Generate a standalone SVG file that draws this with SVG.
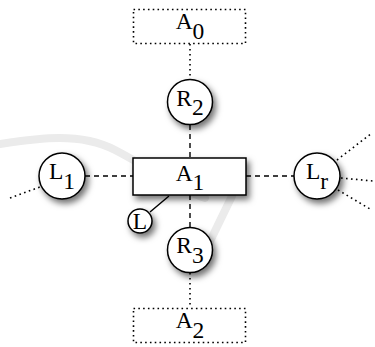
<svg xmlns="http://www.w3.org/2000/svg" width="375" height="347" viewBox="0 0 375 347">
<defs>
<style>
.lbl{font-family:"Liberation Serif","Times New Roman",serif;font-size:23.5px;fill:#000;text-anchor:middle}
.node{fill:#fff;stroke:#000;stroke-width:1.5}
.dotbox{fill:#fff;stroke:#000;stroke-width:1.6;stroke-dasharray:1.6 3.2}
.dash{stroke:#000;stroke-width:1.4;stroke-dasharray:5 4;fill:none}
.dot{stroke:#000;stroke-width:1.6;stroke-dasharray:1.6 3.4;fill:none}
.solid{stroke:#000;stroke-width:1.4;fill:none}
</style>
<filter id="sh" x="-50%" y="-50%" width="200%" height="200%">
<feDropShadow dx="3" dy="4" stdDeviation="3" flood-color="#000" flood-opacity="0.55"/>
</filter>
</defs>
<rect width="375" height="347" fill="#fff"/>
<g id="watermark" fill="none" stroke="#ebebeb" stroke-linecap="round">
<path d="M0,144 C40,138 80,132 115,150 C150,168 180,190 205,198" stroke-width="8"/>
<path d="M232,196 L200,262" stroke-width="8"/>
</g>
<g id="connectors">
<line class="dot" x1="190" y1="44" x2="190" y2="80"/>
<line class="dash" x1="190" y1="125" x2="190" y2="158"/>
<line class="dash" x1="85" y1="176" x2="133" y2="176"/>
<line class="dash" x1="246" y1="176" x2="294" y2="176"/>
<line class="dash" x1="190" y1="195" x2="190" y2="227"/>
<line class="dot" x1="190" y1="273" x2="190" y2="308"/>
<line class="solid" x1="150" y1="212" x2="169" y2="196"/>
<line class="dot" x1="10" y1="198" x2="40" y2="187"/>
<line class="dot" x1="337" y1="160" x2="372" y2="133"/>
<line class="dot" x1="341" y1="178" x2="373" y2="181"/>
<line class="dot" x1="338" y1="190" x2="370" y2="209"/>
</g>
<g id="A0">
<rect class="dotbox" x="133.5" y="9.5" width="112" height="34"/>
<text class="lbl" x="190" y="29">A<tspan dy="9.5">0</tspan></text>
</g>
<g id="R2">
<circle class="node" cx="190" cy="102" r="22.5" filter="url(#sh)"/>
<text class="lbl" x="190" y="106">R<tspan dy="9">2</tspan></text>
</g>
<g id="L1">
<circle class="node" cx="62" cy="176" r="23" filter="url(#sh)"/>
<text class="lbl" x="62" y="179">L<tspan dy="9.5">1</tspan></text>
</g>
<g id="A1">
<rect class="node" x="133" y="158" width="113" height="37" filter="url(#sh)"/>
<text class="lbl" x="190" y="181">A<tspan dy="9">1</tspan></text>
</g>
<g id="Lr">
<circle class="node" cx="317" cy="176" r="23" filter="url(#sh)"/>
<text class="lbl" x="317" y="179">L<tspan dy="9.5">r</tspan></text>
</g>
<g id="L">
<circle class="node" cx="140" cy="221" r="12" filter="url(#sh)"/>
<text class="lbl" x="140" y="229">L</text>
</g>
<g id="R3">
<circle class="node" cx="190" cy="250" r="22.5" filter="url(#sh)"/>
<text class="lbl" x="190" y="253">R<tspan dy="10">3</tspan></text>
</g>
<g id="A2">
<rect class="dotbox" x="133.5" y="308.5" width="112" height="34"/>
<text class="lbl" x="190" y="328">A<tspan dy="9.5">2</tspan></text>
</g>
</svg>
